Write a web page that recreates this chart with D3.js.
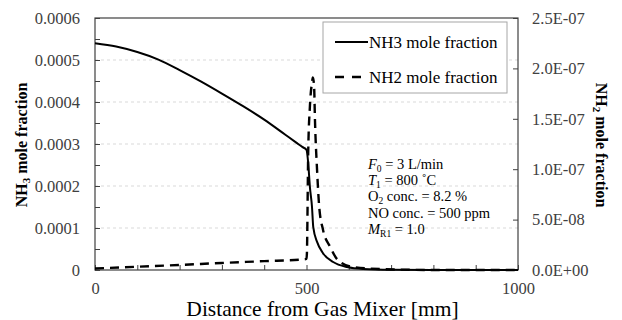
<!DOCTYPE html>
<html>
<head>
<meta charset="utf-8">
<script src="https://cdn.jsdelivr.net/npm/d3@7"></script>
<style>
  body { margin: 0; background: #fff; }
  text { font-family: "Liberation Serif", "Times New Roman", serif; }
</style>
</head>
<body>
<div id="chart"></div>
<script>
// NH3 mole fraction (left axis) vs distance [mm]
const nh3Distance = [0, 50, 100, 150, 200, 250, 300, 350, 400, 450, 475, 490, 500, 504, 508, 513, 516, 525, 539, 563, 596, 634, 700, 800, 900, 1000];
const nh3Values = [0.00054, 0.000532, 0.000519, 0.000501, 0.000476, 0.000449, 0.00042, 0.00039, 0.000358, 0.000322, 0.000304, 0.000293, 0.000286,
    0.000255, 0.000198, 0.00015, 0.000102, 0.000067, 0.00004, 0.000019, 0.000007, 0.0000024, 0.0000006, 0.0000001, 0, 0];

// NH2 mole fraction (right axis) vs distance [mm]
const nh2Distance = [0, 100, 200, 300, 400, 490, 500, 501, 504, 508, 513, 515, 518, 520, 525, 530, 539, 556, 574, 610, 674, 800, 1000];
const nh2Values = [1.5e-9, 3.2e-9, 5e-9, 7e-9, 8.8e-9, 1.05e-8, 1.1e-8, 1.7e-8, 1.16e-7, 1.62e-7, 1.86e-7, 1.91e-7,
    1.82e-7, 1.49e-7, 0.99e-7, 0.63e-7, 0.40e-7, 0.23e-7, 0.10e-7, 0.03e-7, 0.01e-7, 0, 0];

const xTicks = [0, 100, 200, 300, 400, 500, 600, 700, 800, 900, 1000];
const xTickLabels = [0, 500, 1000];
const leftTicks = [0, 0.00005, 0.0001, 0.00015, 0.0002, 0.00025, 0.0003, 0.00035, 0.0004, 0.00045, 0.0005, 0.00055, 0.0006];
const leftTickLabels = [0, 0.0001, 0.0002, 0.0003, 0.0004, 0.0005, 0.0006];
const rightTicks = [0, 5e-8, 1e-7, 1.5e-7, 2e-7, 2.5e-7];

const legendLabels = ["NH3 mole fraction", "NH2 mole fraction"];

var margin = {top: 18, right: 104, bottom: 50, left: 95},
    width = 622 - margin.left - margin.right,
    height = 320 - margin.top - margin.bottom;

var x = d3.scaleLinear().domain([0, 1000]).range([0, width]);
var yLeft = d3.scaleLinear().domain([0, 0.0006]).range([height, 0]);
var yRight = d3.scaleLinear().domain([0, 2.5e-7]).range([height, 0]);

var svg = d3.select("#chart").append("svg")
        .attr("width", 622)
        .attr("height", 320)
    .append("g")
        .attr("transform", `translate(${margin.left}, ${margin.top})`);

// gridlines
svg.selectAll("line.grid")
    .data(leftTickLabels.filter(d => d > 0 && d < 0.0006)).enter()
    .append("line")
        .attr("x1", 0).attr("x2", width)
        .attr("y1", d => yLeft(d)).attr("y2", d => yLeft(d))
        .attr("stroke", "#d9d9d9")
        .attr("stroke-width", 1)
        .attr("stroke-dasharray", "3,3");

function expFormat(d) {
    var s = d.toExponential(1).toUpperCase();
    var parts = s.split("E");
    var sign = parts[1][0] === "-" ? "-" : "+";
    var num = Math.abs(+parts[1]);
    return parts[0] + "E" + sign + (num < 10 ? "0" + num : num);
}

function styleAxis(g) {
    g.select(".domain").remove();
    g.selectAll(".tick line").attr("stroke", "#404040");
    g.selectAll(".tick text")
        .attr("fill", "#404040")
        .style("font-size", "16.5px");
}

// left axis
svg.append("g")
    .call(d3.axisLeft(yLeft)
        .tickValues(leftTicks)
        .tickSizeInner(-5).tickSizeOuter(0)
        .tickPadding(15)
        .tickFormat(d => {
            var r = Math.round(d * 1e5);
            if (r % 10 !== 0) return "";
            return d === 0 ? "0" : d.toFixed(4);
        }))
    .call(styleAxis);

// bottom axis
svg.append("g")
    .attr("transform", `translate(0, ${height})`)
    .call(d3.axisBottom(x)
        .tickValues(xTicks)
        .tickSizeInner(-5).tickSizeOuter(0)
        .tickPadding(12)
        .tickFormat(d => xTickLabels.includes(d) ? d : ""))
    .call(styleAxis);

// right axis
svg.append("g")
    .attr("transform", `translate(${width}, 0)`)
    .call(d3.axisRight(yRight)
        .tickValues(rightTicks)
        .tickSizeInner(-5).tickSizeOuter(0)
        .tickPadding(14)
        .tickFormat(expFormat))
    .call(styleAxis);

// plot frame
svg.append("rect")
    .attr("width", width).attr("height", height)
    .attr("fill", "none")
    .attr("stroke", "#404040")
    .attr("stroke-width", 1.2);

// lines
var nh3Line = d3.line()
    .x((d, i) => x(nh3Distance[i]))
    .y(d => yLeft(d))
    .curve(d3.curveMonotoneX);

var nh2Line = d3.line()
    .x((d, i) => x(nh2Distance[i]))
    .y(d => yRight(d))
    .curve(d3.curveMonotoneX);

svg.append("path")
    .datum(nh3Values)
    .attr("d", nh3Line)
    .attr("fill", "none")
    .attr("stroke", "#000")
    .attr("stroke-width", 2);

svg.append("path")
    .datum(nh2Values)
    .attr("d", nh2Line)
    .attr("fill", "none")
    .attr("stroke", "#000")
    .attr("stroke-width", 2.4)
    .attr("stroke-dasharray", "9,6");

// legend
var legend = svg.append("g").attr("transform", `translate(${323 - margin.left}, ${22 - margin.top})`);
legend.append("rect")
    .attr("width", 184).attr("height", 71)
    .attr("fill", "#fff")
    .attr("stroke", "#a6a6a6")
    .attr("stroke-width", 1);

legendLabels.forEach((label, i) => {
    var ly = 20 + i * 35;
    legend.append("line")
        .attr("x1", 12).attr("x2", 45)
        .attr("y1", ly).attr("y2", ly)
        .attr("stroke", "#000")
        .attr("stroke-width", i === 0 ? 2 : 2.4)
        .attr("stroke-dasharray", i === 0 ? null : "9,8");
    legend.append("text")
        .attr("x", 46).attr("y", ly)
        .attr("dy", "0.35em")
        .style("font-size", "17px")
        .attr("fill", "#000")
        .text(label);
});

// conditions annotation
var notes = svg.append("text")
    .attr("x", 368 - margin.left)
    .attr("y", 169 - margin.top)
    .style("font-size", "14.5px")
    .attr("fill", "#000");

function noteLine(parts, dy) {
    var first = true;
    parts.forEach(p => {
        var t = notes.append("tspan").text(p.t);
        if (first) { t.attr("x", 368 - margin.left).attr("dy", dy); first = false; }
        if (p.i) t.style("font-style", "italic");
        if (p.s) t.style("font-size", "9.5px").attr("baseline-shift", "-2.5");
    });
}
noteLine([{t: "F", i: true}, {t: "0", s: true}, {t: " = 3 L/min"}], 0);
noteLine([{t: "T", i: true}, {t: "1", s: true}, {t: " = 800 ˚C"}], 16.2);
noteLine([{t: "O"}, {t: "2", s: true}, {t: " conc. = 8.2 %"}], 16.2);
noteLine([{t: "NO conc. = 500 ppm"}], 16.2);
noteLine([{t: "M", i: true}, {t: "R1", s: true}, {t: " = 1.0"}], 16.2);

// axis titles
svg.append("text")
    .attr("x", width / 2 + 16)
    .attr("y", 316 - margin.top)
    .attr("text-anchor", "middle")
    .style("font-size", "21.5px")
    .attr("fill", "#000")
    .text("Distance from Gas Mixer [mm]");

var leftTitle = svg.append("text")
    .attr("transform", `translate(${27 - margin.left}, ${145 - margin.top}) rotate(-90)`)
    .attr("text-anchor", "middle")
    .style("font-size", "16px")
    .style("font-weight", "bold")
    .attr("fill", "#000");
leftTitle.append("tspan").text("NH");
leftTitle.append("tspan").text("3").style("font-size", "11px").attr("baseline-shift", "-3");
leftTitle.append("tspan").text(" mole fraction");

var rightTitle = svg.append("text")
    .attr("transform", `translate(${596 - margin.left}, ${145 - margin.top}) rotate(90)`)
    .attr("text-anchor", "middle")
    .style("font-size", "16px")
    .style("font-weight", "bold")
    .attr("fill", "#000");
rightTitle.append("tspan").text("NH");
rightTitle.append("tspan").text("2").style("font-size", "11px").attr("baseline-shift", "-3");
rightTitle.append("tspan").text(" mole fraction");
</script>
</body>
</html>
